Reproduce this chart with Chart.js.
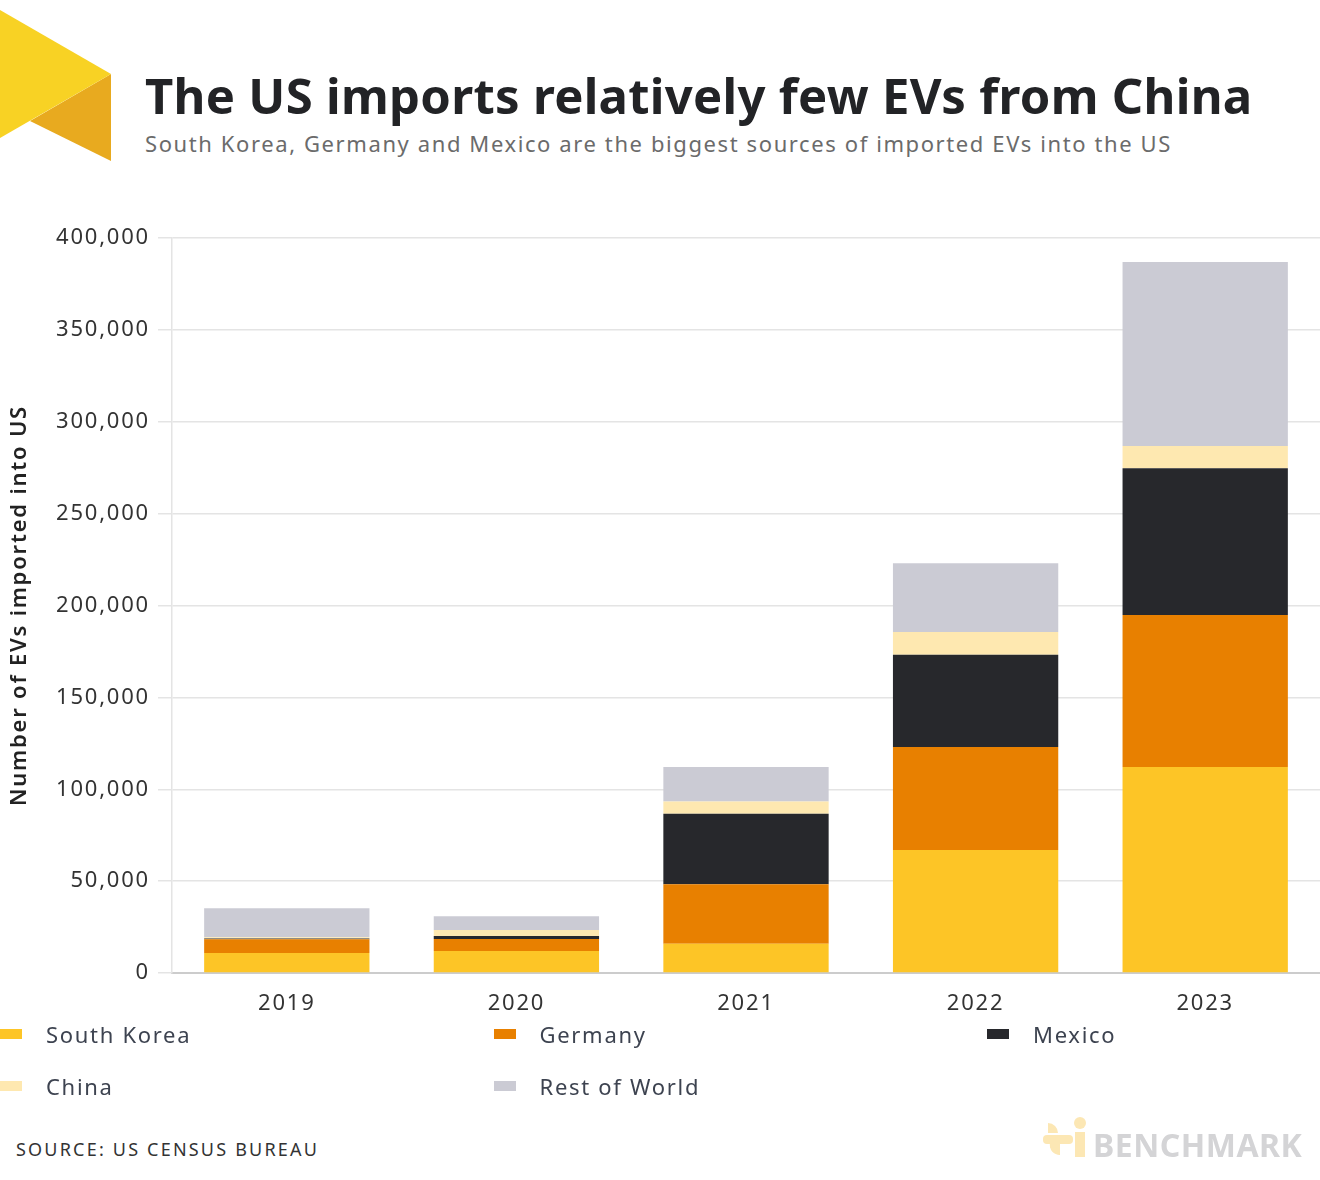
<!DOCTYPE html>
<html>
<head>
<meta charset="utf-8">
<script src="https://cdn.jsdelivr.net/npm/chart.js@4/dist/chart.umd.min.js"></script>
<style>
  html, body { margin: 0; padding: 0; background: #fff; }
  body { width: 1320px; height: 1180px; position: relative; overflow: hidden; font-family: "Noto Sans", sans-serif; }
  #logo { position: absolute; left: 0; top: 0; }
  #title { position: absolute; left: 145px; top: 62px; font-size: 49px; font-weight: 700; color: #222326; white-space: nowrap; letter-spacing: 0.3px; }
  #subtitle { position: absolute; left: 145px; top: 128px; font-size: 22px; color: #6b6b6b; white-space: nowrap; letter-spacing: 1.6px; }
  #wrap { position: absolute; left: 0; top: 201px; width: 1320px; height: 820px; }
  #legend { position: absolute; left: 0; top: 1016px; width: 1320px; }
  .item { position: absolute; font-size: 22px; color: #3d4350; white-space: nowrap; line-height: 36px; letter-spacing: 1.7px; }
  .box { position: absolute; left: 0; top: 13px; width: 22px; height: 10px; }
  .item span.t { position: absolute; left: 46px; top: 0; }
  #source { position: absolute; left: 16px; top: 1137px; font-size: 18px; color: #333; letter-spacing: 2.2px; }
  #brand { position: absolute; left: 1040px; top: 1115px; }
  #brandText { position: absolute; left: 1093px; top: 1123px; font-size: 32px; font-weight: 700; color: #d4d4d6; letter-spacing: 0.5px; }
</style>
</head>
<body>
<svg id="logo" width="120" height="170">
  <polygon points="111,74 111,161 30,121" fill="#E8AA1F"/>
  <polygon points="0,10 111,74 0,138" fill="#F8D224"/>
</svg>
<div id="title">The US imports relatively few EVs from China</div>
<div id="subtitle">South Korea, Germany and Mexico are the biggest sources of imported EVs into the US</div>
<div id="wrap"><canvas id="chart"></canvas></div>
<div id="legend"></div>
<div id="source">SOURCE: US CENSUS BUREAU</div>
<svg id="brand" width="50" height="45">
  <circle cx="40" cy="8" r="6" fill="#FCE7B4"/>
  <path d="M8 8 a10 10 0 0 1 10 10 v0 h-10 z" fill="#FCE7B4"/>
  <rect x="3" y="20" width="30" height="9" rx="4" fill="#FCE7B4"/>
  <path d="M10 28 a10 10 0 0 0 10 12 v-12 z" fill="#FCE7B4"/>
  <rect x="35" y="17" width="10" height="25" fill="#FCE7B4"/>
</svg>
<div id="brandText">BENCHMARK</div>
<script>
const years = ["2019", "2020", "2021", "2022", "2023"];
const southKorea = [10900, 12000, 15900, 66900, 112100];
const germany = [7400, 6500, 32400, 56100, 82700];
const mexico = [500, 1600, 38400, 50200, 79900];
const china = [600, 3300, 6700, 12400, 12100];
const restOfWorld = [15800, 7500, 18700, 37400, 100100];

const seriesNames = ["South Korea", "Germany", "Mexico", "China", "Rest of World"];
const colors = ["#FDC526", "#E88000", "#27282C", "#FEE8B0", "#CBCBD4"];
const seriesData = [southKorea, germany, mexico, china, restOfWorld];

const font = "'Noto Sans', sans-serif";

// wider text on the canvas, closer to the original typeface
const spacing = {
  id: "spacing",
  beforeUpdate: (c) => { c.ctx.letterSpacing = "1.8px"; },
  beforeDraw: (c) => { c.ctx.letterSpacing = "1.8px"; },
};

const chart = new Chart(document.getElementById("chart"), {
  type: "bar",
  plugins: [spacing],
  data: {
    labels: years,
    datasets: seriesNames.map((name, i) => ({
      label: name,
      data: seriesData[i],
      backgroundColor: colors[i],
      borderWidth: 0,
      barPercentage: 0.72,
      categoryPercentage: 1,
    })),
  },
  options: {
    responsive: true,
    maintainAspectRatio: false,
    animation: false,
    layout: { padding: { top: 37, right: 0, bottom: 0, left: 0 } },
    plugins: {
      legend: { display: false },
      tooltip: { enabled: false },
    },
    scales: {
      x: {
        stacked: true,
        grid: { display: false, drawTicks: false },
        border: { color: "#cccccc", width: 2 },
        ticks: { color: "#333", padding: 18, font: { family: font, size: 22 } },
        afterFit: (s) => { s.height = 48; },
      },
      y: {
        stacked: true,
        min: 0,
        max: 400000,
        ticks: {
          stepSize: 50000,
          color: "#333",
          padding: 8,
          font: { family: font, size: 22 },
          callback: (v) => v.toLocaleString("en-US"),
        },
        grid: { color: "#e4e4e4", lineWidth: 1.5, tickLength: 14 },
        border: { color: "#e4e4e4", width: 1.5 },
        title: {
          display: true,
          text: "Number of EVs imported into US",
          color: "#222",
          padding: { top: 7, bottom: 4 },
          font: { family: font, size: 22, weight: "600" },
        },
        afterFit: (s) => { s.width = 172; },
      },
    },
  },
});

// legend laid out in three columns like the original
const legend = document.getElementById("legend");
chart.data.datasets.forEach((ds, i) => {
  const el = document.createElement("div");
  el.className = "item";
  el.style.left = (i % 3) * 493.5 + "px";
  el.style.top = Math.floor(i / 3) * 52 + "px";
  el.innerHTML = '<div class="box" style="background:' + ds.backgroundColor + '"></div><span class="t">' + ds.label + "</span>";
  legend.appendChild(el);
});
</script>
</body>
</html>
